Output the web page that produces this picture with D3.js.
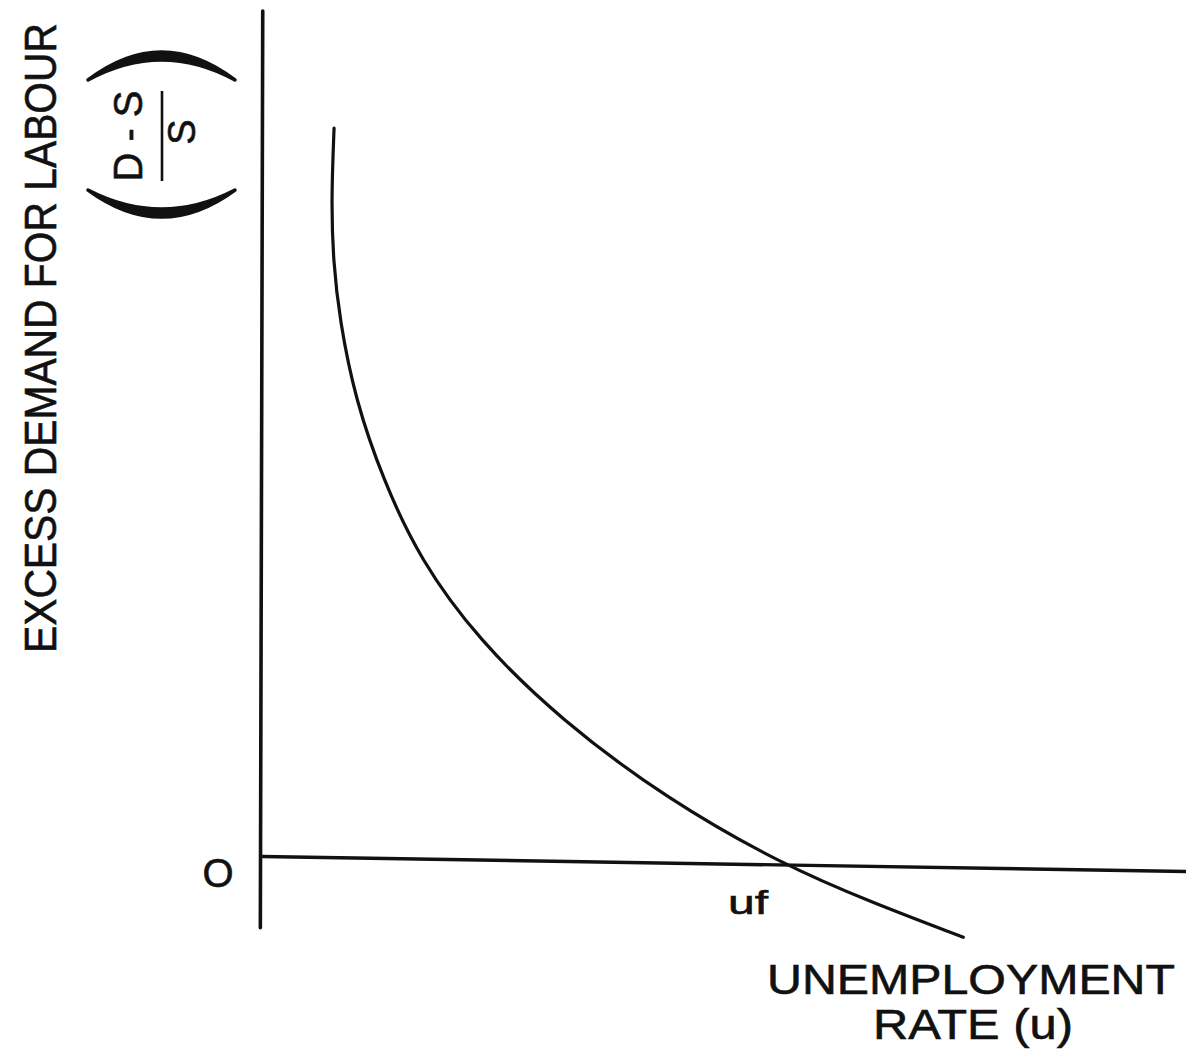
<!DOCTYPE html>
<html>
<head>
<meta charset="utf-8">
<script src="https://cdn.jsdelivr.net/npm/d3@7"></script>
<style>
  html, body { margin: 0; padding: 0; background: #fff; }
  svg { display: block; }
</style>
</head>
<body>
<div id="chart"></div>
<script>
(function () {
  'use strict';

  // ── Data ───────────────────────────────────────────────────────
  // unemployment rate u (arbitrary units) vs excess demand (D-S)/S
  const uValues = [
    0.78, 0.75, 0.77, 0.84, 1.01, 1.31, 1.71, 2.34, 3.23, 4.39, 5.64, 6.61, 7.59
  ];
  const excessValues = [
    8.57, 7.73, 7.03, 6.34, 5.41, 4.48, 3.55, 2.62, 1.69, 0.76, 0.00, -0.44, -0.84
  ];
  const uDomain = [0, 10];
  const excessDomain = [0, 10];
  const yAxisExtent = [-0.73, 9.93];
  const ufValue = 5.64;

  const yTitle = 'EXCESS DEMAND FOR LABOUR';
  const fracNum = 'D - S';
  const fracDen = 'S';
  const originLabel = 'O';
  const ufLabel = 'uf';
  const xTitle = ['UNEMPLOYMENT', 'RATE (u)'];

  // ── SVG ────────────────────────────────────────────────────────
  const W = 1186, H = 1051;
  const FONT = '"Liberation Sans", Arial, Helvetica, sans-serif';
  const INK = '#111';

  const svg = d3.select('#chart').append('svg')
    .attr('width', W).attr('height', H)
    .attr('viewBox', `0 0 ${W} ${H}`);

  svg.append('rect').attr('width', W).attr('height', H).attr('fill', '#fff');

  const x = d3.scaleLinear().domain(uDomain).range([262, 1186]);
  const y = d3.scaleLinear().domain(excessDomain).range([865, 5]);

  // ── Axes (plain lines, the scan is slightly skewed) ────────────
  svg.append('line')
    .attr('x1', x(0) - 1.5).attr('x2', x(0) - 1.5)
    .attr('y1', y(yAxisExtent[0])).attr('y2', y(yAxisExtent[1]))
    .attr('transform', `rotate(0.15, ${x(0)}, ${y(0)})`)
    .attr('stroke', INK).attr('stroke-width', 3.6)
    .attr('stroke-linecap', 'round');

  svg.append('line')
    .attr('x1', x(0)).attr('x2', x(uDomain[1]) + 2)
    .attr('y1', y(0)).attr('y2', y(0))
    .attr('transform', `rotate(0.93, ${x(ufValue)}, ${y(0)})`)
    .attr('stroke', INK).attr('stroke-width', 3.4);

  // ── Curve ──────────────────────────────────────────────────────
  const pts = uValues.map((u, i) => [u, excessValues[i]]);
  svg.append('path')
    .datum(pts)
    .attr('fill', 'none')
    .attr('stroke', INK)
    .attr('stroke-width', 3.2)
    .attr('stroke-linecap', 'round')
    .attr('d', d3.line().x(d => x(d[0])).y(d => y(d[1])).curve(d3.curveBasis));

  // ── Labels ─────────────────────────────────────────────────────
  function label(sel) {
    return sel.attr('font-family', FONT)
      .attr('fill', INK).attr('stroke', INK).attr('stroke-width', 0.6);
  }

  label(svg.append('text'))
    .attr('transform', 'translate(56,338) rotate(-90)')
    .attr('text-anchor', 'middle')
    .attr('font-size', 45)
    .attr('textLength', 630).attr('lengthAdjust', 'spacingAndGlyphs')
    .text(yTitle);

  // fraction (D-S)/S, rotated like the axis title
  const frac = svg.append('g').attr('transform', 'translate(155,136) rotate(-90)');
  label(frac.append('text'))
    .attr('x', 0).attr('y', -13)
    .attr('text-anchor', 'middle')
    .attr('font-size', 40)
    .text(fracNum);
  frac.append('line')
    .attr('x1', -45).attr('x2', 45).attr('y1', 7).attr('y2', 7)
    .attr('stroke', INK).attr('stroke-width', 2.6);
  label(frac.append('text'))
    .attr('x', 4).attr('y', 40)
    .attr('text-anchor', 'middle')
    .attr('font-size', 38)
    .text(fracDen);

  // big brackets round the fraction, drawn as crescents
  function crescent(x0, x1, yEnd, yOuter, yInner) {
    const p = d3.path();
    const mx = (x0 + x1) / 2;
    p.moveTo(x0, yEnd);
    p.quadraticCurveTo(mx, 2 * yOuter - yEnd, x1, yEnd);
    p.quadraticCurveTo(mx, 2 * yInner - yEnd, x0, yEnd);
    p.closePath();
    return p.toString();
  }
  svg.append('path')
    .attr('d', crescent(88, 235, 80, 52, 60))
    .attr('fill', INK).attr('stroke', INK).attr('stroke-width', 3.5)
    .attr('stroke-linejoin', 'round');
  svg.append('path')
    .attr('d', crescent(88, 235, 190, 217, 209))
    .attr('fill', INK).attr('stroke', INK).attr('stroke-width', 3.5)
    .attr('stroke-linejoin', 'round');

  label(svg.append('text'))
    .attr('x', 218).attr('y', 887)
    .attr('text-anchor', 'middle')
    .attr('font-size', 40)
    .text(originLabel);

  label(svg.append('text'))
    .attr('x', x(ufValue) - 55).attr('y', 914)
    .attr('font-size', 34)
    .attr('textLength', 40).attr('lengthAdjust', 'spacingAndGlyphs')
    .text(ufLabel);

  label(svg.append('text'))
    .attr('x', 971).attr('y', 994)
    .attr('text-anchor', 'middle')
    .attr('font-size', 42)
    .attr('textLength', 408).attr('lengthAdjust', 'spacingAndGlyphs')
    .text(xTitle[0]);
  label(svg.append('text'))
    .attr('x', 973).attr('y', 1039)
    .attr('text-anchor', 'middle')
    .attr('font-size', 42)
    .attr('textLength', 200).attr('lengthAdjust', 'spacingAndGlyphs')
    .text(xTitle[1]);
})();
</script>
</body>
</html>
